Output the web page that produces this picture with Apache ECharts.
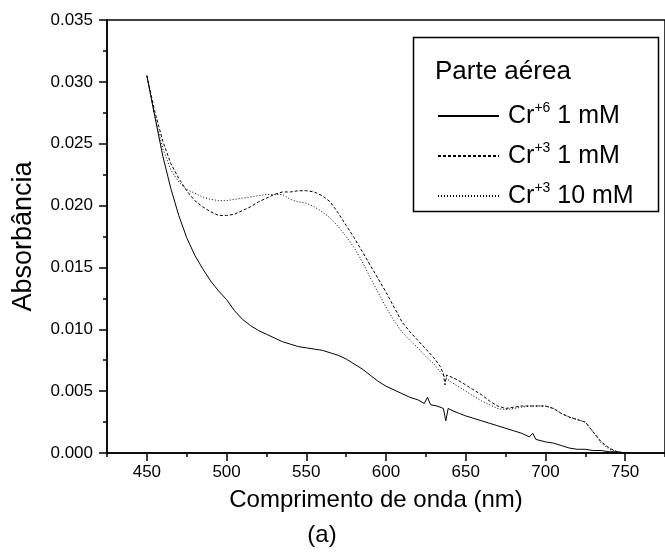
<!DOCTYPE html>
<html><head><meta charset="utf-8">
<script src="https://cdn.jsdelivr.net/npm/echarts@6/dist/echarts.min.js"></script>
<style>html,body{margin:0;padding:0;background:#fff}#c{width:665px;height:558px}</style>
</head><body><div id="c"></div>
<script>
const seriesNames = ['Cr+6 1 mM', 'Cr+3 1 mM', 'Cr+3 10 mM'];
const legendTitle = 'Parte aérea';
const xName = 'Comprimento de onda (nm)';
const yName = 'Absorbância';
const panelLabel = '(a)';
const xMajorTicks = [450, 500, 550, 600, 650, 700, 750];
const xMinorTicks = [425, 475, 525, 575, 625, 675, 725, 775];

const cr6X = [450,455,460,465,470,475,480,485,490,495,500,505,510,515,520,525,530,535,540,545,550,555,560,565,570,575,580,585,590,595,600,605,610,615,620,624,626,628,632,636,637.5,639,642,646,650,655,660,665,670,675,680,685,690,692,694,700,705,710,715,720,725,730,735,740,745,750];
const cr6Y = [.0305,.0272,.0240,.0214,.0192,.0174,.0160,.0149,.0139,.0131,.0124,.0115,.0108,.0103,.0099,.0096,.0093,.0090,.0088,.0086,.0085,.0084,.0083,.0081,.0079,.0076,.0072,.0068,.0063,.0058,.0054,.0051,.0048,.0045,.0043,.0040,.0045,.0039,.0038,.0036,.0026,.0036,.0034,.0032,.0030,.0028,.0026,.0024,.0022,.0020,.0018,.0016,.0013,.0016,.0011,.0009,.0008,.0006,.0004,.0003,.0003,.0002,.0002,.0001,.0001,.0000];

const cr3aX = [450,455,460,465,470,475,480,485,490,495,500,505,510,515,520,525,530,535,540,545,550,555,560,565,570,575,580,585,590,595,600,605,610,615,620,625,630,634,636,637,638,640,645,650,655,660,665,670,675,680,685,690,695,700,705,710,715,720,725,730,735,740,745,750];
const cr3aY = [.0305,.0276,.0252,.0234,.0222,.0212,.0204,.0199,.0195,.0192,.0192,.0193,.0196,.0199,.0203,.0206,.0209,.0211,.0211,.0212,.0212,.0211,.0208,.0203,.0194,.0184,.0174,.0163,.0152,.0141,.0130,.0118,.0106,.0098,.0091,.0084,.0077,.0070,.0064,.0055,.0063,.0062,.0059,.0055,.0051,.0047,.0042,.0038,.0036,.0037,.0038,.0038,.0038,.0038,.0036,.0032,.0029,.0027,.0025,.0017,.0009,.0004,.0001,.0000];

const cr3bX = [450,455,460,465,470,475,480,485,490,495,500,505,510,515,520,525,530,535,540,545,550,555,560,565,570,575,580,585,590,595,600,605,610,615,620,625,630,635,640,645,650,655,660,665,670,675,680,685,690,695,700,705,710,715,720,725,730,735,740,745,750];
const cr3bY = [.0305,.0272,.0246,.0229,.0219,.0213,.0210,.0207,.0205,.0204,.0204,.0205,.0206,.0207,.0208,.0209,.0209,.0209,.0205,.0203,.0202,.0199,.0195,.0190,.0183,.0175,.0166,.0155,.0142,.0130,.0118,.0107,.0098,.0091,.0085,.0078,.0072,.0064,.0058,.0054,.0050,.0046,.0042,.0039,.0036,.0035,.0036,.0037,.0038,.0038,.0038,.0036,.0032,.0029,.0027,.0025,.0017,.0008,.0003,.0001,.0000];

const pair = (xs, ys) => xs.map((x, i) => [x, ys[i]]);
const FONT = 'Liberation Sans, Arial, sans-serif';
const AX = {color: '#000', width: 1.5};

const chart = echarts.init(document.getElementById('c'), null, {renderer: 'canvas'});
const mk = (name, xs, ys, type) => ({
  name, type: 'line', data: pair(xs, ys), symbol: 'none', showSymbol: false, smooth: false,
  xAxisIndex: 0, yAxisIndex: 0,
  lineStyle: {color: '#000', width: 1, type},
  itemStyle: {color: '#000'}, animation: false
});
chart.setOption({
  animation: false,
  grid: {left: 107, top: 20, width: 560, bottom: 105, show: true, borderColor: '#000', borderWidth: 1.5, containLabel: false},
  xAxis: [{
    type: 'value', min: 425, max: 775, position: 'bottom',
    name: xName, nameLocation: 'middle', nameGap: 35,
    nameTextStyle: {fontSize: 24, color: '#000', fontFamily: FONT, padding: [0, 20, 0, 0]},
    axisLine: {lineStyle: AX},
    axisTick: {show: true, inside: false, length: 8, lineStyle: AX, customValues: xMajorTicks},
    axisLabel: {fontSize: 17, color: '#000', fontFamily: FONT, margin: 11, customValues: xMajorTicks},
    splitLine: {show: false}
  }, {
    type: 'value', min: 425, max: 775, position: 'bottom',
    axisLine: {show: false},
    axisTick: {show: true, inside: false, length: 4, lineStyle: AX, customValues: xMinorTicks},
    axisLabel: {show: false},
    splitLine: {show: false}
  }],
  yAxis: {
    type: 'value', min: 0, max: 0.035, interval: 0.005,
    name: yName, nameLocation: 'middle', nameGap: 70, nameRotate: 90,
    nameTextStyle: {fontSize: 27, color: '#000', fontFamily: FONT},
    axisLine: {lineStyle: AX},
    axisTick: {show: true, inside: false, length: 8, lineStyle: AX},
    minorTick: {show: true, splitNumber: 2, length: 4, lineStyle: AX},
    axisLabel: {fontSize: 17, color: '#000', fontFamily: FONT, margin: 14, formatter: v => v.toFixed(3)},
    splitLine: {show: false}
  },
  legend: {
    orient: 'vertical', left: 432, top: 96, itemWidth: 61, itemHeight: 12, itemGap: 10,
    data: seriesNames,
    itemStyle: {opacity: 0},
    formatter: n => {
      const m = n.match(/^Cr(\+\d)(.*)$/);
      return 'Cr{sup|' + m[1] + '}' + m[2];
    },
    textStyle: {fontSize: 25, lineHeight: 30, color: '#000', fontFamily: FONT, padding: [0, 0, 0, 4],
      rich: {sup: {fontSize: 14, lineHeight: 30, verticalAlign: 'top', fontFamily: FONT, color: '#000'}}}
  },
  graphic: [
    {type: 'rect', left: 411, top: 35, shape: {width: 245, height: 174},
      style: {fill: 'none', stroke: '#000', lineWidth: 1.5}, silent: true},
    {type: 'text', left: 435, top: 59, style: {text: legendTitle, font: '26px ' + FONT, fill: '#000'}},
    {type: 'text', x: 322, y: 535, style: {text: panelLabel, font: '24px ' + FONT, fill: '#000', align: 'center', verticalAlign: 'middle'}}
  ],
  series: [
    mk(seriesNames[0], cr6X, cr6Y, 'solid'),
    mk(seriesNames[1], cr3aX, cr3aY, [3, 2]),
    mk(seriesNames[2], cr3bX, cr3bY, [1, 2])
  ]
});
</script></body></html>
